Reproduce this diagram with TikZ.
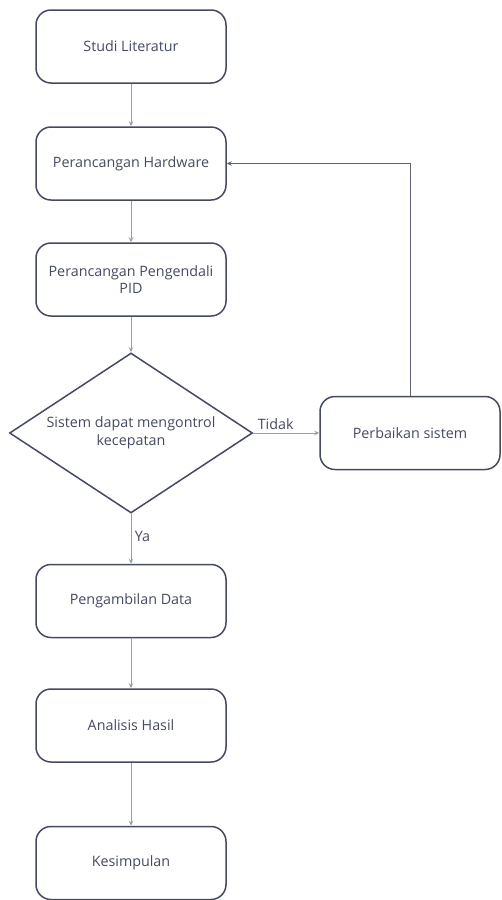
\documentclass[tikz,border=0pt]{standalone}
\usepackage{fontspec}
\setmainfont{Open Sans}
\usepackage{tikz}
\usetikzlibrary{shapes.geometric,arrows.meta}
\definecolor{edgeink}{HTML}{454A60}
\definecolor{lineink}{HTML}{9A9EAC}
\definecolor{loopink}{HTML}{5F6376}
\tikzset{
	stepbox/.style={draw=edgeink, line width=1.5pt, rounded corners=15pt, minimum width=190pt, minimum height=73pt, align=center, text=edgeink, font=\fontsize{14.3}{17.6}\selectfont},
	choice/.style={draw=edgeink, line width=1.5pt, diamond, shape aspect=1.52, minimum width=243pt, minimum height=160pt, inner sep=0pt, align=center, text=edgeink, font=\fontsize{14.3}{17.6}\selectfont},
	flow/.style={draw=lineink, line width=1pt, -{Stealth[length=5pt,width=4.5pt]}},
	tag/.style={text=edgeink, font=\fontsize{14.3}{17.6}\selectfont}
}
\begin{document}
\begin{tikzpicture}[x=1pt,y=-1pt]
		\useasboundingbox (0,0) rectangle (501,900);
		\node[stepbox] (lit) at (131,46.5) {Studi Literatur};
		\node[stepbox] (hw) at (131,163.5) {Perancangan Hardware};
		\node[stepbox] (pid) at (131,279.5) {Perancangan Pengendali\\PID};
		\node[choice] (dec) at (131,433) {Sistem dapat mengontrol\\kecepatan};
		\node[stepbox, minimum width=180pt] (fix) at (410,433) {Perbaikan sistem};
		\node[stepbox] (data) at (131,601) {Pengambilan Data};
		\node[stepbox] (ana) at (131,725.5) {Analisis Hasil};
		\node[stepbox] (kes) at (131,863) {Kesimpulan};
		\draw[flow] (lit) -- (hw);
		\draw[flow] (hw) -- (pid);
		\draw[flow] (pid) -- (dec);
		\draw[flow] (dec.east) -- (fix.west) node[tag,pos=0.34,above]{Tidak};
		\draw[flow, draw=loopink] (fix.north) |- (hw.east);
		\draw[flow] (dec.south) -- (data.north) node[tag,pos=0.45,right]{Ya};
		\draw[flow] (data) -- (ana);
		\draw[flow] (ana) -- (kes);
	\end{tikzpicture}
\end{document}
